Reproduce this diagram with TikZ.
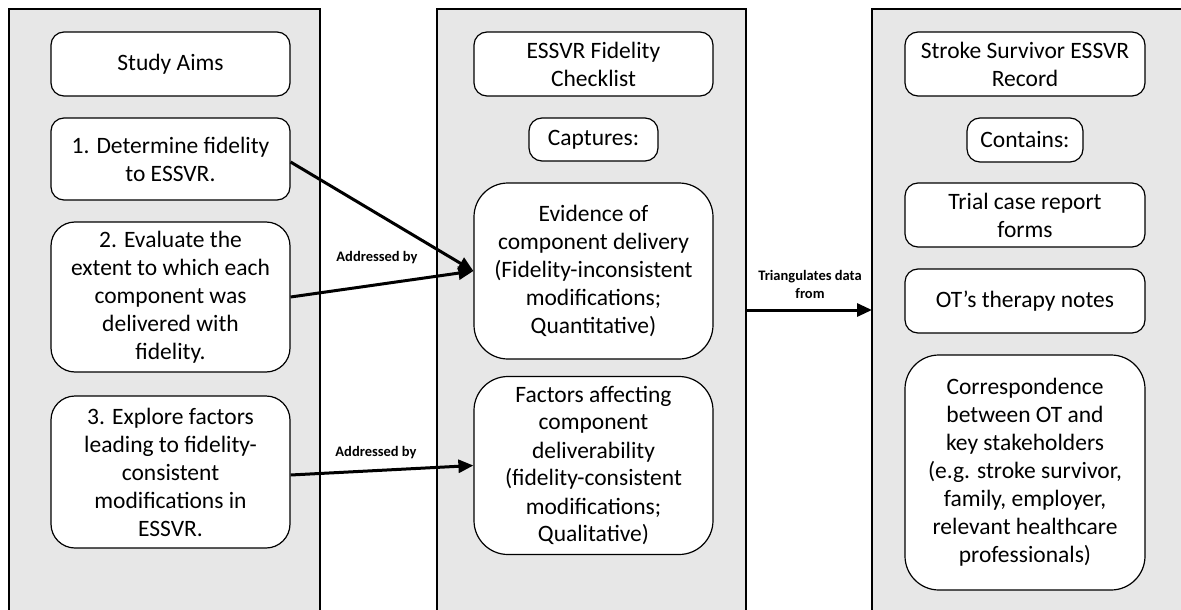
\documentclass[tikz,border=0pt]{standalone}
\usepackage{fontspec}
\setmainfont{Carlito}
\usetikzlibrary{arrows.meta}
\definecolor{panelgray}{RGB}{231,231,231}
\begin{document}
\begin{tikzpicture}[x=1pt,y=-1pt,
  panel/.style={fill=panelgray,draw=none},
  panelline/.style={line width=1.8pt,line cap=rect},
  box/.style={draw,fill=white,line width=1.2pt,rounded corners=13pt,align=center,inner sep=0pt,
    font=\fontsize{23.5}{28}\selectfont},
  bigbox/.style={box,rounded corners=34pt},
  midbox/.style={box,rounded corners=24pt},
  flow/.style={line width=3pt,-{Triangle[length=15pt,width=13pt]}},
  note/.style={font=\bfseries\fontsize{14.5}{18}\selectfont,align=center,inner sep=0pt}]
\useasboundingbox (0,0) rectangle (1181,610);

% three gray columns, open at the bottom
\fill[panel] (9,9) rectangle (320,615);
\fill[panel] (437,9) rectangle (746,615);
\fill[panel] (872,9) rectangle (1190,615);
\draw[panelline] (9,615) -- (9,9) -- (320,9) -- (320,615);
\draw[panelline] (437,615) -- (437,9) -- (746,9) -- (746,615);
\draw[panelline] (872,615) -- (872,9) -- (1190,9);

% left column: study aims
\node[box,minimum width=239pt,minimum height=64pt] (aims) at (170.5,64) {Study Aims};
\node[box,minimum width=239pt,minimum height=82pt] (a1) at (170.5,159) {1. Determine fidelity\\to ESSVR.};
\node[midbox,minimum width=239pt,minimum height=150pt] (a2) at (170.5,297) {2. Evaluate the\\extent to which each\\component was\\delivered with\\fidelity.};
\node[midbox,minimum width=239pt,minimum height=152pt] (a3) at (170.5,472) {3. Explore factors\\leading to fidelity-\\consistent\\modifications in\\ESSVR.};

% middle column: fidelity checklist
\node[box,minimum width=239pt,minimum height=64pt] (check) at (593.5,64) {ESSVR Fidelity\\Checklist};
\node[box,minimum width=129pt,minimum height=43pt] (capt) at (593.5,139.5) {Captures:};
\node[bigbox,minimum width=239pt,minimum height=176pt] (evid) at (593.5,271) {Evidence of\\component delivery\\(Fidelity-inconsistent\\modifications;\\Quantitative)};
\node[bigbox,minimum width=239pt,minimum height=178pt] (fact) at (593.5,465.5) {Factors affecting\\component\\deliverability\\(fidelity-consistent\\modifications;\\Qualitative)};

% right column: survivor record
\node[box,minimum width=240pt,minimum height=64pt] (rec) at (1025,64) {Stroke Survivor ESSVR\\Record};
\node[box,minimum width=116pt,minimum height=44pt] (cont) at (1025,140) {Contains:};
\node[box,minimum width=240pt,minimum height=64pt] (trial) at (1025,215) {Trial case report\\forms};
\node[box,minimum width=240pt,minimum height=64pt] (notes) at (1025,301) {OT’s therapy notes};
\node[bigbox,minimum width=240pt,minimum height=235pt] (corr) at (1025,472.5) {Correspondence\\between OT and\\key stakeholders\\(e.g. stroke survivor,\\family, employer,\\relevant healthcare\\professionals)};

% connectors
\draw[flow] ([yshift=-3pt]a1.east) -- (evid.west);
\draw[flow] (a2.east) -- (evid.west);
\node[note] (lab1) at (377,258) {Addressed by};
\draw[flow] ([yshift=-3pt]a3.east) -- (fact.west);
\node[note] (lab2) at (376,453) {Addressed by};

\coordinate (triS) at (746,310);
\coordinate (triE) at (872,310);
\draw[flow] (triS) -- (triE);
\node[note] (lab3) at (810,284) {Triangulates data\\from};
\end{tikzpicture}
\end{document}
